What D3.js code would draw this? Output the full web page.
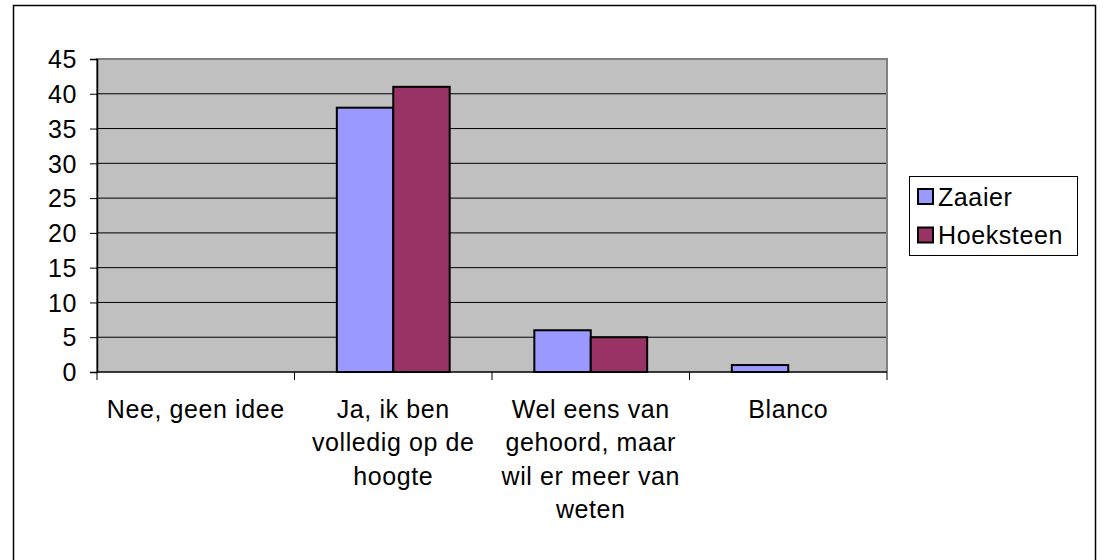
<!DOCTYPE html>
<html><head><meta charset="utf-8">
<script src="https://cdn.jsdelivr.net/npm/d3@7"></script>
<style>body{margin:0;background:#fff}svg{display:block}</style>
</head><body><svg id="c" width="1104" height="560"></svg>
<script>
const categories = [["Nee, geen idee"], ["Ja, ik ben", "volledig op de", "hoogte"], ["Wel eens van", "gehoord, maar", "wil er meer van", "weten"], ["Blanco"]];
const seriesNames = ["Zaaier", "Hoeksteen"];
const zaaier = [0, 38, 6, 1];
const hoeksteen = [0, 41, 5, 0];
const colors = ["#9999ff", "#993366"];
const yTicks = [0, 5, 10, 15, 20, 25, 30, 35, 40, 45];

const svg = d3.select("#c");
const font = "Liberation Sans, Arial, sans-serif";
const fs = 25, ls = "0.6px";
svg.append("rect").attr("x", 13.5).attr("y", 5.5).attr("width", 1082).attr("height", 560).attr("fill", "#fff").attr("stroke", "#000").attr("stroke-width", 1.5);

const L = 97, R = 887, T = 59, B = 372;
const x = d3.scaleBand().domain(d3.range(categories.length)).range([L, R]).paddingInner(0).paddingOuter(0);
const y = d3.scaleLinear().domain([0, 45]).range([B, T]);
const bw = x.bandwidth() / 3.5;

svg.append("rect").attr("x", L).attr("y", T).attr("width", R - L).attr("height", B - T).attr("fill", "#c0c0c0");
svg.append("g").selectAll("line").data(yTicks.filter(d => d > 0 && d < 45)).join("line")
  .attr("x1", L).attr("x2", R).attr("y1", d => y(d)).attr("y2", d => y(d)).attr("stroke", "#000").attr("stroke-width", 1);
svg.append("path").attr("d", `M${L},${B}V${T}H${R}V${B}`).attr("fill", "none").attr("stroke", "#808080").attr("stroke-width", 2);

const series = [zaaier, hoeksteen];
series.forEach((vals, si) => {
  svg.append("g").selectAll("rect").data(vals.map((v, i) => ({v, i})).filter(d => d.v > 0)).join("rect")
    .attr("x", d => x(d.i) + bw * 0.75 + si * bw)
    .attr("y", d => y(d.v)).attr("width", bw).attr("height", d => B - y(d.v))
    .attr("fill", colors[si]).attr("stroke", "#000").attr("stroke-width", 2);
});

// y axis
const ya = svg.append("g").attr("transform", `translate(${L},0)`)
  .call(d3.axisLeft(y).tickValues(yTicks).tickSize(7).tickPadding(13));
ya.select(".domain").attr("stroke", "#000").attr("stroke-width", 1.5);
ya.selectAll("line").attr("stroke", "#000");
ya.selectAll("text").attr("font-family", font).attr("font-size", fs).attr("letter-spacing", ls).attr("fill", "#000").attr("dy", "0.35em");

// x axis
svg.append("line").attr("x1", L).attr("x2", R).attr("y1", B).attr("y2", B).attr("stroke", "#000").attr("stroke-width", 1.5);
svg.append("g").selectAll("line").data(d3.range(categories.length + 1)).join("line")
  .attr("x1", d => L + d * x.bandwidth()).attr("x2", d => L + d * x.bandwidth())
  .attr("y1", B).attr("y2", B + 8).attr("stroke", "#000");
const lab = svg.append("g").selectAll("text").data(categories).join("text")
  .attr("font-family", font).attr("font-size", fs).attr("letter-spacing", ls).attr("fill", "#000").attr("text-anchor", "middle");
lab.each(function(lines, i) {
  d3.select(this).selectAll("tspan").data(lines).join("tspan")
    .attr("x", x(i) + x.bandwidth() / 2).attr("y", (d, j) => 418 + j * 33.3).text(d => d);
});

// legend
const lg = svg.append("g");
lg.append("rect").attr("x", 909.5).attr("y", 176.5).attr("width", 168).attr("height", 79).attr("fill", "#fff").attr("stroke", "#000");
seriesNames.forEach((n, i) => {
  const cy = 196.5 + i * 38.5;
  lg.append("rect").attr("x", 918).attr("y", cy - 7.5).attr("width", 15).attr("height", 15).attr("fill", colors[i]).attr("stroke", "#000").attr("stroke-width", 2);
  lg.append("text").attr("x", 938).attr("y", cy + 9).attr("font-family", font).attr("font-size", fs).attr("letter-spacing", ls).text(n);
});
</script></body></html>
